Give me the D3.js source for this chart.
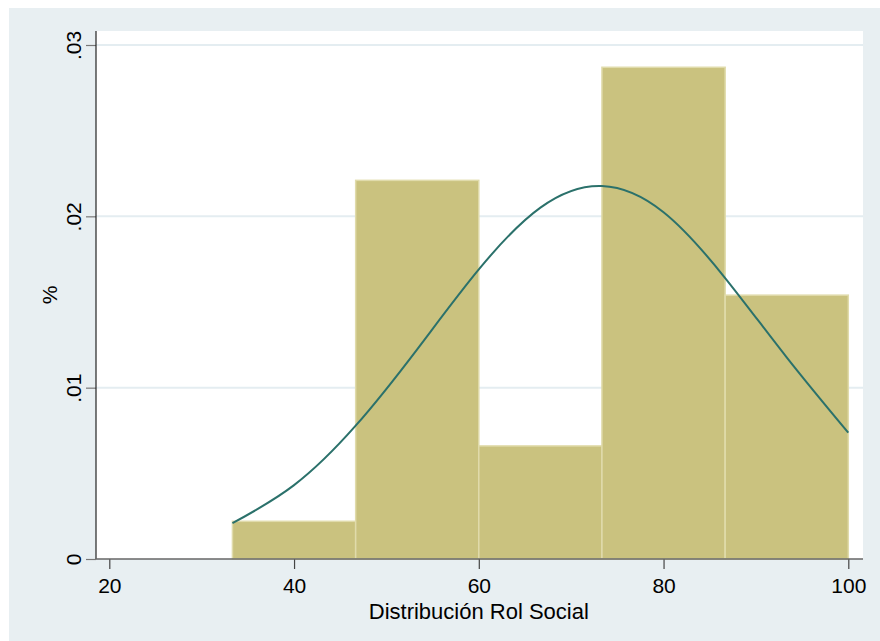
<!DOCTYPE html>
<html>
<head>
<meta charset="utf-8">
<script src="https://cdn.jsdelivr.net/npm/d3@7"></script>
<style>
  html, body { margin: 0; padding: 0; background: #ffffff; }
  svg { display: block; font-family: "Liberation Sans", Arial, sans-serif; }
</style>
</head>
<body>
<svg id="chart" width="880" height="641"></svg>
<script>
// Histogram bins (lower/upper edges) and density heights
const binStarts = [33.33, 46.67, 60, 73.33, 86.67];
const binEnds   = [46.67, 60, 73.33, 86.67, 100];
const binDensity = [0.0022, 0.0221, 0.0066, 0.0287, 0.0154];

// Normal density overlay
const curveX = [33.33, 40, 46.67, 53.33, 60, 66.67, 73.33, 80, 86.67, 93.33, 100];
const curveY = [0.00209, 0.00431, 0.00778, 0.01224, 0.01690, 0.02051, 0.02177, 0.02024, 0.01640, 0.01177, 0.00737];

const xTicks = [20, 40, 60, 80, 100];
const yTicks = [0, 0.01, 0.02, 0.03];
const yTickLabels = ["0", ".01", ".02", ".03"];

const xTitle = "Distribución Rol Social";
const yTitle = "%";

const svg = d3.select("#chart");

// outer graph region
svg.append("rect")
  .attr("x", 9).attr("y", 8).attr("width", 871).attr("height", 633)
  .attr("fill", "#e8eff2");

const plot = { left: 96, right: 863, top: 31, bottom: 559 };

svg.append("rect")
  .attr("x", plot.left).attr("y", plot.top)
  .attr("width", plot.right - plot.left).attr("height", plot.bottom - plot.top)
  .attr("fill", "#ffffff");

const x = d3.scaleLinear().domain([20, 100]).range([109.3, 848.3]);
const y = d3.scaleLinear().domain([0, 0.03]).range([plot.bottom, 45]);

// horizontal grid lines
svg.append("g")
  .selectAll("line")
  .data(yTicks.filter(d => d > 0))
  .join("line")
  .attr("x1", plot.left).attr("x2", plot.right)
  .attr("y1", d => y(d)).attr("y2", d => y(d))
  .attr("stroke", "#e4edf1")
  .attr("stroke-width", 2);

// bars
const bins = binStarts.map((s, i) => ({ x0: s, x1: binEnds[i], v: binDensity[i] }));
svg.append("g")
  .selectAll("rect")
  .data(bins)
  .join("rect")
  .attr("x", d => x(d.x0))
  .attr("y", d => y(d.v))
  .attr("width", d => x(d.x1) - x(d.x0))
  .attr("height", d => y(0) - y(d.v))
  .attr("fill", "#cac27f")
  .attr("stroke", "#e0dbab")
  .attr("stroke-width", 1.5);

// density curve
const pts = curveX.map((v, i) => [v, curveY[i]]);
svg.append("path")
  .datum(pts)
  .attr("fill", "none")
  .attr("stroke", "#2b716b")
  .attr("stroke-width", 2)
  .attr("d", d3.line().x(d => x(d[0])).y(d => y(d[1])).curve(d3.curveNatural));

// y axis
const yAxis = d3.axisLeft(y)
  .tickValues(yTicks)
  .tickFormat((d, i) => yTickLabels[i])
  .tickSize(10)
  .tickPadding(4);
const gy = svg.append("g").attr("transform", `translate(${plot.left},0)`).call(yAxis);
gy.select(".domain").remove();
gy.append("line")
  .attr("x1", 0).attr("x2", 0).attr("y1", plot.top).attr("y2", plot.bottom)
  .attr("stroke", "#222").attr("stroke-width", 1.2);
gy.selectAll(".tick line").attr("stroke", "#777").attr("stroke-width", 1.2);
gy.selectAll(".tick text")
  .attr("font-size", 21)
  .attr("fill", "#000")
  .attr("x", null)
  .attr("text-anchor", "middle")
  .attr("transform", "translate(-15,0) rotate(-90)")
  .attr("dy", "0");

// x axis
const xAxis = d3.axisBottom(x)
  .tickValues(xTicks)
  .tickFormat(d3.format("d"))
  .tickSize(10)
  .tickPadding(9);
const gx = svg.append("g").attr("transform", `translate(0,${plot.bottom})`).call(xAxis);
gx.select(".domain").remove();
gx.append("line")
  .attr("x1", plot.left).attr("x2", plot.right).attr("y1", 0).attr("y2", 0)
  .attr("stroke", "#666").attr("stroke-width", 1.5);
gx.selectAll(".tick line").attr("stroke", "#444").attr("stroke-width", 1.2);
gx.selectAll(".tick text").attr("font-size", 21).attr("fill", "#000");

// axis titles
svg.append("text")
  .attr("x", (x(20) + x(100)) / 2)
  .attr("y", 619)
  .attr("text-anchor", "middle")
  .attr("font-size", 22)
  .attr("fill", "#000")
  .text(xTitle);

svg.append("text")
  .attr("transform", `translate(57,${(plot.top + plot.bottom) / 2}) rotate(-90)`)
  .attr("text-anchor", "middle")
  .attr("font-size", 21)
  .attr("fill", "#000")
  .text(yTitle);
</script>
</body>
</html>
